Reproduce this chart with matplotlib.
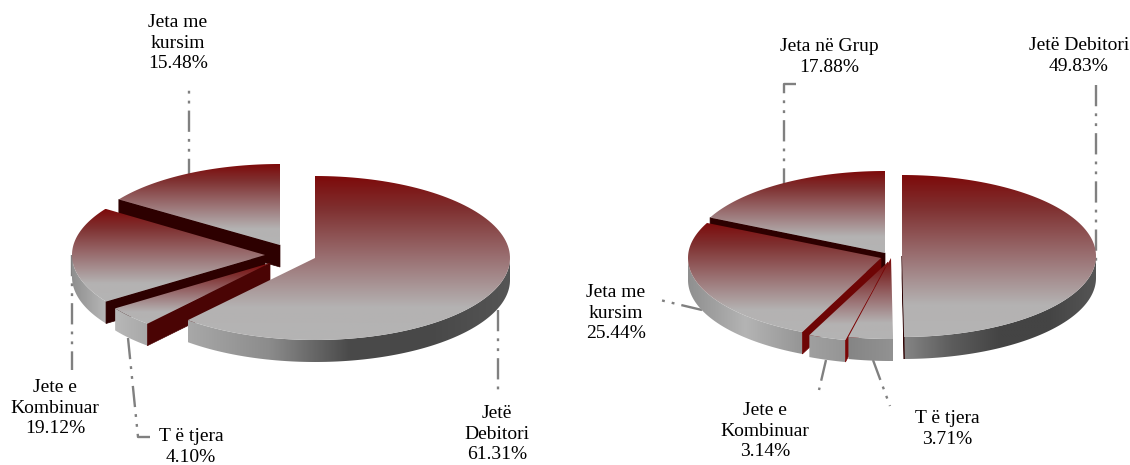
import matplotlib

matplotlib.use("Agg")
import matplotlib.pyplot as plt
import numpy as np
from matplotlib.colors import LinearSegmentedColormap
from matplotlib.patches import Polygon

# values, clockwise from 12 o'clock
left_names = ["Jetë\nDebitori", "T ë tjera", "Jete e\nKombinuar", "Jeta me\nkursim"]
left_values = [61.31, 4.10, 19.12, 15.48]
right_names = ["Jetë Debitori", "T ë tjera", "Jete e\nKombinuar", "Jeta me\nkursim", "Jeta në Grup"]
right_values = [49.83, 3.71, 3.14, 25.44, 17.88]

# layout of each exploded slice: apex x, apex y, radius x, radius y
left_layout = [(315, 258, 195, 82), (270, 263, 188, 80), (265, 255, 193, 82), (280, 245, 195, 81)]
right_layout = [(902, 256, 194, 81), (891, 258, 193, 81), (888, 262, 193, 80), (881, 258, 193, 81), (885, 253, 194, 82)]
DEPTH = 22

left_walls = ["#2d0000", "#4a0404", "#2d0000", "#2d0000"]
right_walls = ["#2d0000", "#7a0606", "#7a0606", "#6e0505", "#2d0000"]
left_rims = [
    ["#a8a8a8", "#8c8c8c", "#4a4a4a", "#484848", "#555555"],
    ["#b8b8b8", "#a8a8a8"],
    ["#8f8f8f", "#b8b8b8"],
    ["#999999", "#999999"],
]
right_rims = [
    ["#858585", "#5c5c5c", "#444444", "#444444", "#555555"],
    ["#858585", "#929292"],
    ["#a0a0a0", "#959595"],
    ["#8f8f8f", "#b4b4b4", "#959595"],
    ["#999999", "#999999"],
]

# text centre x, text centre y, for each slice
left_text = [(497, 434), (191, 447), (55, 408), (178, 43)]
right_text = [(1079, 56), (947, 429), (765, 431), (616, 313), (829, 57)]

# leader lines drawn before the pies
left_leaders = [
    ([498, 498], [310, 396]),
    ([128, 138, 150], [338, 437, 437]),
    ([72, 72], [255, 370]),
    ([189, 189], [180, 85]),
]
right_leaders = [
    ([1096, 1096], [85, 265]),
    ([873, 890], [360, 406]),
    ([826, 819], [360, 390]),
    ([702, 660], [310, 300]),
    ([796, 784, 784], [84, 84, 190]),
]

top_cmap = LinearSegmentedColormap.from_list(
    "top", [(0, "#7d0a0a"), (0.2, "#7f3030"), (0.5, "#9a7072"), (0.8, "#b4b2b2"), (1, "#b4b4b4")]
)


def arc(cx, cy, rx, ry, a0, a1):
    t = np.radians(np.linspace(a0, a1, 120))
    return np.column_stack([cx + rx * np.sin(t), cy - ry * np.cos(t)])


def fill_gradient(ax, pts, cmap, vertical):
    x0, y0 = pts.min(axis=0)
    x1, y1 = pts.max(axis=0)
    grad = np.linspace(0, 1, 256)
    grad = grad.reshape(-1, 1) if vertical else grad.reshape(1, -1)
    # origin upper so first row is the top of the slice
    im = ax.imshow(grad, cmap=cmap, extent=(x0, x1, y1, y0), aspect="auto", origin="upper", zorder=ax.zcount)
    patch = Polygon(pts, closed=True, transform=ax.transData, fc="none", ec="none")
    ax.add_patch(patch)
    im.set_clip_path(patch)
    ax.zcount += 1


def add_wall(ax, cx, cy, rx, ry, angle, color):
    p = arc(cx, cy, rx, ry, angle, angle)[0]
    pts = [(cx, cy), p, (p[0], p[1] + DEPTH), (cx, cy + DEPTH)]
    ax.add_patch(Polygon(pts, closed=True, fc=color, ec=color, lw=0.5, zorder=ax.zcount))
    ax.zcount += 1


def draw_slice(ax, layout, a0, a1, wall, rim):
    cx, cy, rx, ry = layout
    # outer rim, only the part facing the viewer
    lo, hi = max(a0, 90), min(a1, 270)
    if hi > lo:
        edge = arc(cx, cy, rx, ry, lo, hi)
        pts = np.vstack([edge, (edge + [0, DEPTH])[::-1]])
        fill_gradient(ax, pts, LinearSegmentedColormap.from_list("rim", rim), False)
    # cut faces
    if np.sin(np.radians(a0)) < -1e-6:
        add_wall(ax, cx, cy, rx, ry, a0, wall)
    if np.sin(np.radians(a1)) > 1e-6:
        add_wall(ax, cx, cy, rx, ry, a1, wall)
    # top surface
    pts = np.vstack([[(cx, cy)], arc(cx, cy, rx, ry, a0, a1)])
    fill_gradient(ax, pts, top_cmap, True)


def draw_pie(ax, names, values, layouts, walls, rims, text_pos, leaders):
    for xs, ys in leaders:
        ax.plot(xs, ys, color="#808080", lw=1.7, ls=(0, (9, 3, 1.2, 3, 1.2, 3)), zorder=1)
    ax.zcount = 2
    edges = np.concatenate([[0], np.cumsum(values)]) / np.sum(values) * 360
    # back slices first, the first slice sits in front
    for i in range(len(values) - 1, -1, -1):
        draw_slice(ax, layouts[i], edges[i], edges[i + 1], walls[i], rims[i])
    for name, val, (x, y) in zip(names, values, text_pos):
        ax.text(x, y, f"{name}\n{val:.2f}%", ha="center", va="center", fontsize=14,
                family="Liberation Serif", linespacing=1.27, color="black", zorder=50)


fig = plt.figure(figsize=(11.3, 4.65), dpi=100)
ax = fig.add_axes([0, 0, 1, 1])

draw_pie(ax, left_names, left_values, left_layout, left_walls, left_rims, left_text, left_leaders)
draw_pie(ax, right_names, right_values, right_layout, right_walls, right_rims, right_text, right_leaders)

ax.set_xlim(0, 1130)
ax.set_ylim(465, 0)
ax.axis("off")
fig.savefig("out.png", dpi=100, facecolor="white")
